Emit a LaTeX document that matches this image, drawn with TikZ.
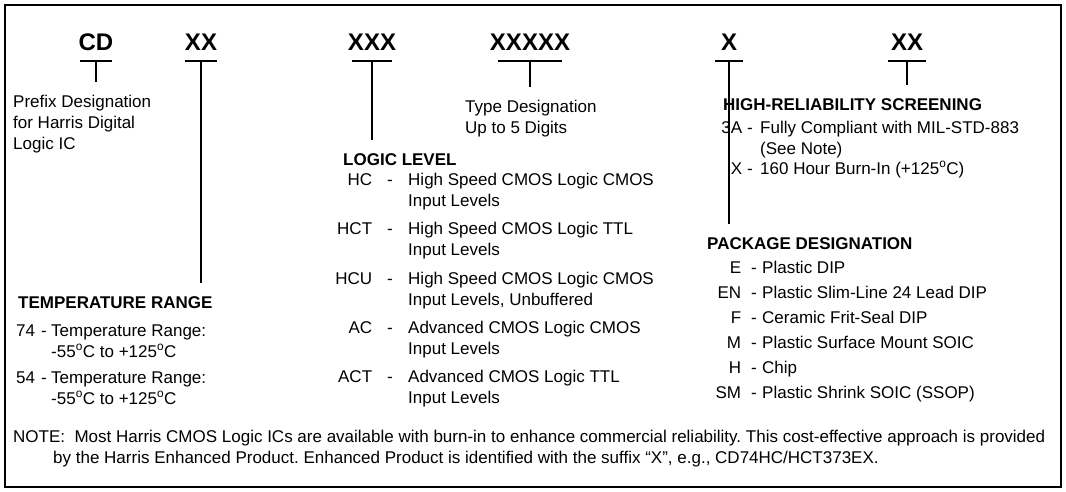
\documentclass[tikz,border=0pt]{standalone}
\usepackage{fontspec}
\setmainfont{Liberation Sans}
\usetikzlibrary{positioning}
\frenchspacing

\newcommand{\bodyfont}{\fontsize{17}{21}\selectfont}
\newcommand{\lines}[1]{\begin{tabular}[t]{@{}l@{}}#1\end{tabular}}
\newcommand{\degc}{\textsuperscript{o}C}

\begin{document}
\begin{tikzpicture}[x=1pt, y=-1pt,
  every node/.style={font=\bodyfont, inner sep=0pt},
  code/.style={font=\bfseries\fontsize{24}{28}\selectfont, anchor=south, text depth=10pt},
  head/.style={font=\bodyfont\bfseries, anchor=base west, text height=15pt},
  key/.style={anchor=base east},
  desc/.style={anchor=base west},
  bar/.style={line width=1.6pt},
  stem/.style={line width=1.6pt, shorten >=10pt}]
  \useasboundingbox (0,0) rectangle (1066,491);
  \draw[line width=2pt] (5,5) rectangle (1061,487);

  % part number fields
  \node[code] (cd) at (96,61) {CD};
  \node[code] (xx) at (201,61) {XX};
  \node[code] (xxx) at (372,61) {XXX};
  \node[code] (xxxxx) at (530,61) {XXXXX};
  \node[code] (x) at (729,61) {X};
  \node[code] (xxs) at (907,61) {XX};

  \draw[bar] ([xshift=-16pt]cd.south) -- ([xshift=16pt]cd.south);
  \draw[bar] ([xshift=-16pt]xx.south) -- ([xshift=16pt]xx.south);
  \draw[bar] ([xshift=-20pt]xxx.south) -- ([xshift=20pt]xxx.south);
  \draw[bar] ([xshift=-32pt]xxxxx.south) -- ([xshift=32pt]xxxxx.south);
  \draw[bar] ([xshift=-14pt]x.south) -- ([xshift=14pt]x.south);
  \draw[bar] ([xshift=-19pt]xxs.south) -- ([xshift=19pt]xxs.south);

  % prefix and type
  \node[desc] (prefix) at (13,107) {\lines{Prefix Designation\\for Harris Digital\\Logic IC}};
  \node[desc] (type) at (465,112) {\lines{Type Designation\\Up to 5 Digits}};

  % temperature range
  \node[head] (temp) at (18,308) {TEMPERATURE RANGE};
  \node[key] (t74) at (47,336) {74\hspace{6pt}-};
  \node[desc] (t74-d) at (51,336) {\lines{Temperature Range:\\-55\degc{} to +125\degc}};
  \node[key] (t54) at (47,383) {54\hspace{6pt}-};
  \node[desc] (t54-d) at (51,383) {\lines{Temperature Range:\\-55\degc{} to +125\degc}};

  % logic level
  \node[head] (logic) at (343,165) {LOGIC LEVEL};
  \node[key] (hc) at (393,185) {HC\hspace{15pt}-};
  \node[desc] (hc-d) at (408,185) {\lines{High Speed CMOS Logic CMOS\\Input Levels}};
  \node[key] (hct) at (393,234.5) {HCT\hspace{15pt}-};
  \node[desc] (hct-d) at (408,234.5) {\lines{High Speed CMOS Logic TTL\\Input Levels}};
  \node[key] (hcu) at (393,284) {HCU\hspace{15pt}-};
  \node[desc] (hcu-d) at (408,284) {\lines{High Speed CMOS Logic CMOS\\Input Levels, Unbuffered}};
  \node[key] (ac) at (393,333) {AC\hspace{15pt}-};
  \node[desc] (ac-d) at (408,333) {\lines{Advanced CMOS Logic CMOS\\Input Levels}};
  \node[key] (act) at (393,382) {ACT\hspace{15pt}-};
  \node[desc] (act-d) at (408,382) {\lines{Advanced CMOS Logic TTL\\Input Levels}};

  % high-reliability screening
  \node[head] (screen) at (723,110) {HIGH-RELIABILITY SCREENING};
  \node[key] (a3) at (753,133) {3A\hspace{5pt}-};
  \node[desc] (a3-d) at (760,133) {\lines{Fully Compliant with MIL-STD-883\\(See Note)}};
  \node[key] (bx) at (753,174) {X\hspace{5pt}-};
  \node[desc] (bx-d) at (760,174) {160 Hour Burn-In (+125\degc)};

  % package designation
  \node[head] (pkg) at (707,249) {PACKAGE DESIGNATION};
  \node[key] (e) at (757,273) {E\hspace{10pt}-};
  \node[desc] (e-d) at (762,273) {Plastic DIP};
  \node[key] (en) at (757,298) {EN\hspace{10pt}-};
  \node[desc] (en-d) at (762,298) {Plastic Slim-Line 24 Lead DIP};
  \node[key] (f) at (757,323) {F\hspace{10pt}-};
  \node[desc] (f-d) at (762,323) {Ceramic Frit-Seal DIP};
  \node[key] (m) at (757,348) {M\hspace{10pt}-};
  \node[desc] (m-d) at (762,348) {Plastic Surface Mount SOIC};
  \node[key] (h) at (757,373) {H\hspace{10pt}-};
  \node[desc] (h-d) at (762,373) {Chip};
  \node[key] (sm) at (757,398) {SM\hspace{10pt}-};
  \node[desc] (sm-d) at (762,398) {Plastic Shrink SOIC (SSOP)};

  % note
  \node[desc] (note1) at (13,442) {NOTE:\ \ Most Harris CMOS Logic ICs are available with burn-in to enhance commercial reliability. This cost-effective approach is provided};
  \node[desc] (note2) at (53,463) {by the Harris Enhanced Product. Enhanced Product is identified with the suffix ``X'', e.g., CD74HC/HCT373EX.};

  % stems
  \draw[stem] (cd.south) -- (cd.south |- prefix.north);
  \draw[stem] (xx.south) -- (xx.south |- temp.north);
  \draw[stem] (xxx.south) -- (xxx.south |- logic.north);
  \draw[stem] (xxxxx.south) -- (xxxxx.south |- type.north);
  \draw[stem] (x.south) -- (x.south |- pkg.north);
  \draw[stem] (xxs.south) -- (xxs.south |- screen.north);
\end{tikzpicture}
\end{document}
